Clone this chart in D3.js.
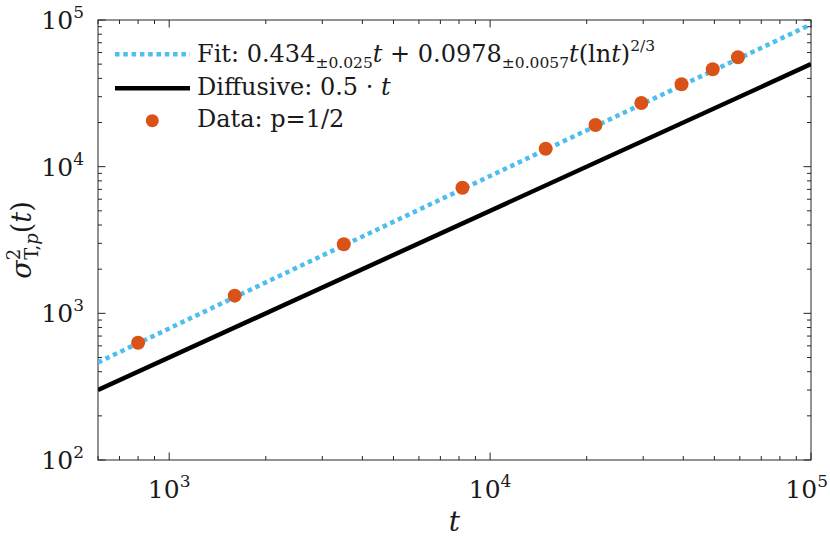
<!DOCTYPE html>
<html lang="en">
<head>
<meta charset="UTF-8">
<title>sigma^2 vs t</title>
<script src="https://d3js.org/d3.v7.min.js"></script>
<style>
  body { margin: 0; background: #fff; }
  svg text { font-family: "DejaVu Serif"; }
</style>
</head>
<body>
<div id="chart"></div>
<script>
// data
const dataT = [800, 1600, 3500, 8200, 14900, 21300, 29600, 39500, 49400, 59200];
const dataV = [630, 1320, 2960, 7190, 13260, 19230, 27160, 36430, 46100, 55660];

// fitted curve, sampled
const fitT = [600, 1000, 3000, 10000, 30000, 100000];
const fitV = [463, 789, 2476, 8637, 26920, 93260];

// diffusive line
const diffT = [600, 100000];
const diffV = [300, 50000];

const xTicks = [1e3, 1e4, 1e5];
const xTickLabels = ["3", "4", "5"];
const yTicks = [1e2, 1e3, 1e4, 1e5];
const yTickLabels = ["2", "3", "4", "5"];

const W = 830, H = 539;
const m = { left: 98, right: 19, top: 20, bottom: 79 };

const svg = d3.select("#chart").append("svg")
  .attr("width", W).attr("height", H)
  .attr("fill", "#1a1a1a");

const x = d3.scaleLog().domain([600, 1e5]).range([m.left, W - m.right]);
const y = d3.scaleLog().domain([1e2, 1e5]).range([H - m.bottom, m.top]);

svg.append("clipPath").attr("id", "clip")
  .append("rect")
  .attr("x", m.left).attr("y", m.top)
  .attr("width", W - m.left - m.right).attr("height", H - m.top - m.bottom);

// minor tick values
const xMinor = [], yMinor = [];
for (let d = 100; d <= 1e4; d *= 10) {
  for (let k = 2; k <= 9; k++) {
    if (d * k >= 600 && d * k <= 1e5) xMinor.push(d * k);
    if (d * k >= 100 && d * k <= 1e5) yMinor.push(d * k);
  }
}

const axisCol = "#262626";
const g = svg.append("g").attr("stroke", axisCol).attr("stroke-width", 1);
const x0 = m.left, x1 = W - m.right, y0 = H - m.bottom, y1 = m.top;

// box
g.append("rect")
  .attr("x", x0).attr("y", y1)
  .attr("width", x1 - x0).attr("height", y0 - y1)
  .attr("fill", "none");

// ticks on all four sides, pointing in
const tick = (v, len, horiz) => {
  if (horiz) {
    g.append("line").attr("x1", x(v)).attr("x2", x(v)).attr("y1", y0).attr("y2", y0 - len);
    g.append("line").attr("x1", x(v)).attr("x2", x(v)).attr("y1", y1).attr("y2", y1 + len);
  } else {
    g.append("line").attr("y1", y(v)).attr("y2", y(v)).attr("x1", x0).attr("x2", x0 + len);
    g.append("line").attr("y1", y(v)).attr("y2", y(v)).attr("x1", x1).attr("x2", x1 - len);
  }
};
xMinor.forEach(v => tick(v, 4, true));
xTicks.forEach(v => tick(v, 7.5, true));
yMinor.forEach(v => tick(v, 4, false));
yTicks.forEach(v => tick(v, 7.5, false));

// tick labels (the last one is pulled in so it stays inside the page)
xTicks.forEach((v, i) => {
  const last = i === xTicks.length - 1;
  const t = svg.append("text")
    .attr("x", last ? W - 2 : x(v)).attr("y", 498)
    .attr("text-anchor", last ? "end" : "middle")
    .attr("font-size", 25);
  t.append("tspan").text("10");
  t.append("tspan").attr("font-size", 17).attr("dy", -11).text(xTickLabels[i]);
});
yTicks.forEach((v, i) => {
  const t = svg.append("text")
    .attr("x", 84).attr("y", y(v) + 9)
    .attr("text-anchor", "end")
    .attr("font-size", 25);
  t.append("tspan").text("10");
  t.append("tspan").attr("font-size", 17).attr("dy", -11).text(yTickLabels[i]);
});

// axis labels
svg.append("text")
  .attr("x", (x0 + x1) / 2).attr("y", 531)
  .attr("text-anchor", "middle")
  .attr("font-size", 28).attr("font-style", "italic")
  .text("t");

const yl = svg.append("text")
  .attr("transform", `translate(31,${(y0 + y1) / 2}) rotate(-90)`)
  .attr("text-anchor", "middle")
  .attr("font-size", 27);
yl.append("tspan").attr("font-style", "italic").text("σ");
yl.append("tspan").attr("font-size", 18).attr("dy", -11).text("2");
yl.append("tspan").attr("font-size", 18).attr("dx", -11).attr("dy", 18).text("T,");
yl.append("tspan").attr("font-size", 18).attr("font-style", "italic").text("p");
yl.append("tspan").attr("dy", -7).text("(");
yl.append("tspan").attr("font-style", "italic").text("t");
yl.append("tspan").text(")");

// lines
const line = d3.line().x(d => x(d[0])).y(d => y(d[1])).curve(d3.curveMonotoneX);
const plot = svg.append("g").attr("clip-path", "url(#clip)");

plot.append("path")
  .attr("d", line(d3.zip(diffT, diffV)))
  .attr("fill", "none").attr("stroke", "#000").attr("stroke-width", 4.5);

plot.append("path")
  .attr("d", line(d3.zip(fitT, fitV)))
  .attr("fill", "none").attr("stroke", "#4DBEEE").attr("stroke-width", 4.5)
  .attr("stroke-dasharray", "4.5,3.8");

plot.selectAll("circle.pt")
  .data(d3.zip(dataT, dataV))
  .enter().append("circle")
  .attr("class", "pt")
  .attr("cx", d => x(d[0])).attr("cy", d => y(d[1]))
  .attr("r", 7)
  .attr("fill", "#D95319");

// legend
const lg = svg.append("g");
lg.append("line").attr("x1", 115).attr("x2", 190).attr("y1", 54.3).attr("y2", 54.3)
  .attr("stroke", "#4DBEEE").attr("stroke-width", 4.5).attr("stroke-dasharray", "4.5,3.8");
lg.append("line").attr("x1", 115).attr("x2", 190).attr("y1", 88.3).attr("y2", 88.3)
  .attr("stroke", "#000").attr("stroke-width", 4.5);
lg.append("circle").attr("cx", 152.3).attr("cy", 120.7).attr("r", 6.5).attr("fill", "#D95319");

const f = lg.append("text").attr("x", 197).attr("y", 62).attr("font-size", 24);
f.append("tspan").text("Fit: 0.434");
f.append("tspan").attr("font-size", 15.5).attr("dy", 6).text("±0.025");
f.append("tspan").attr("font-style", "italic").attr("dy", -6).text("t");
f.append("tspan").text(" + 0.0978");
f.append("tspan").attr("font-size", 15.5).attr("dy", 6).text("±0.0057");
f.append("tspan").attr("font-style", "italic").attr("dy", -6).text("t");
f.append("tspan").text("(ln");
f.append("tspan").attr("font-style", "italic").text("t");
f.append("tspan").text(")");
f.append("tspan").attr("font-size", 15.5).attr("dy", -11).text("2/3");

const dtxt = lg.append("text").attr("x", 197).attr("y", 95).attr("font-size", 24);
dtxt.append("tspan").text("Diffusive: 0.5 · ");
dtxt.append("tspan").attr("font-style", "italic").text("t");

lg.append("text").attr("x", 197).attr("y", 127).attr("font-size", 24)
  .text("Data: p=1/2");
</script>
</body>
</html>
